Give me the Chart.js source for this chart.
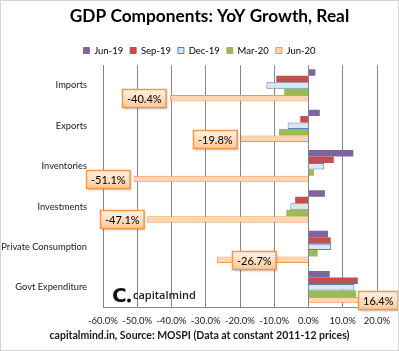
<!DOCTYPE html>
<html>
<head>
<meta charset="utf-8">
<script src="https://cdn.jsdelivr.net/npm/chart.js@4"></script>
<style>
  html, body { margin: 0; padding: 0; background: #fff; }
  #wrap { width: 399px; height: 351px; position: relative; }
</style>
</head>
<body>
<div id="wrap"><canvas id="myChart"></canvas></div>
<script>
var categories = ['Imports', 'Exports', 'Inventories', 'Investments', 'Private Consumption', 'Govt Expenditure'];
var seriesNames = ['Jun-19', 'Sep-19', 'Dec-19', 'Mar-20', 'Jun-20'];
var jun19 = [2.0, 3.3, 13.1, 4.8, 5.7, 6.2];
var sep19 = [-9.4, -2.4, 7.4, -3.9, 6.5, 14.4];
var dec19 = [-12.3, -6.1, 4.6, -5.3, 6.6, 13.4];
var mar20 = [-7.1, -8.6, 1.6, -6.5, 2.7, 13.9];
var jun20 = [-40.4, -19.8, -51.1, -47.1, -26.7, 16.4];
var xMin = -60, xMax = 20, xStep = 10;

var FONT = 'Lato';

// labels in boxes on the Jun-20 bars
var boxLabels = {
  id: 'boxLabels',
  afterDatasetsDraw: function(chart, args, opts) {
    var meta = chart.getDatasetMeta(4);
    var ctx = chart.ctx;
    ctx.save();
    ctx.font = '11px ' + FONT;
    meta.data.forEach(function(bar, i) {
      var v = jun20[i];
      var text = v.toFixed(1) + '%';
      var w = ctx.measureText(text).width + 9, h = 18;
      var x = v < 0 ? bar.x - 4 - w : bar.x - 2;
      x += opts.shift[i];
      var y = Math.round(bar.y - h / 2) + 0.5;
      x = Math.round(x) + 0.5;
      ctx.shadowColor = 'rgba(0,0,0,0.3)';
      ctx.shadowOffsetX = 1; ctx.shadowOffsetY = 1; ctx.shadowBlur = 2;
      var g = ctx.createLinearGradient(0, y, 0, y + h);
      g.addColorStop(0, '#fff3e8');
      g.addColorStop(1, '#fcc999');
      ctx.fillStyle = g;
      ctx.fillRect(x, y, w, h);
      ctx.shadowColor = 'transparent';
      ctx.strokeStyle = '#f79646';
      ctx.lineWidth = 1.5;
      ctx.strokeRect(x, y, w, h);
      ctx.fillStyle = '#000';
      ctx.textAlign = 'center';
      ctx.textBaseline = 'middle';
      ctx.fillText(text, x + w / 2, y + h / 2 + 1);
    });
    ctx.restore();
  }
};

// capitalmind mark, title nudge and outer frame
var extras = {
  id: 'extras',
  afterLayout: function(chart) {
    if (chart.titleBlock) {
      chart.titleBlock.left += 10;
      chart.titleBlock.right += 10;
    }
  },
  beforeDatasetsDraw: function(chart) {
    var ctx = chart.ctx;
    var a = chart.chartArea;
    ctx.save();
    ctx.fillStyle = '#111';
    ctx.font = 'bold 20px "DejaVu Sans"';
    ctx.textBaseline = 'alphabetic';
    ctx.fillText('C', a.left + 9, a.bottom - 5);
    ctx.beginPath();
    ctx.arc(a.left + 26, a.bottom - 7, 2, 0, Math.PI * 2);
    ctx.fill();
    ctx.font = '600 11px "Open Sans"';
    ctx.fillStyle = '#222';
    ctx.fillText('capitalmind', a.left + 30, a.bottom - 8);
    ctx.restore();
  },
  afterDraw: function(chart) {
    var ctx = chart.ctx;
    ctx.save();
    ctx.strokeStyle = '#d4d4d4';
    ctx.lineWidth = 1;
    ctx.strokeRect(0.5, 0.5, chart.width - 1, chart.height - 1);
    ctx.restore();
  }
};

var ctx = document.getElementById('myChart').getContext('2d');
var myChart = new Chart(ctx, {
  type: 'bar',
  data: {
    labels: categories,
    datasets: [
      { label: seriesNames[0], data: jun19, backgroundColor: '#8064a2', borderWidth: 0 },
      { label: seriesNames[1], data: sep19, backgroundColor: '#c0504d', borderWidth: 0 },
      { label: seriesNames[2], data: dec19, backgroundColor: '#dce6f2', borderColor: '#4f81bd', borderWidth: 1 },
      { label: seriesNames[3], data: mar20, backgroundColor: '#9bbb59', borderWidth: 0 },
      { label: seriesNames[4], data: jun20, backgroundColor: '#fcd5b5', borderColor: '#f79646', borderWidth: 1 }
    ]
  },
  options: {
    indexAxis: 'y',
    responsive: true,
    maintainAspectRatio: false,
    animation: false,
    datasets: { bar: { categoryPercentage: 0.8, barPercentage: 1.0 } },
    layout: { padding: { left: 0, right: 0, top: 0, bottom: 9 } },
    plugins: {
      tooltip: { enabled: false },
      title: {
        display: true,
        text: 'GDP Components: YoY Growth, Real',
        color: '#000',
        font: { family: FONT, size: 17.3, weight: 'bold' },
        padding: { top: 6, bottom: 12 }
      },
      legend: {
        position: 'top',
        labels: {
          color: '#1a1a1a',
          font: { family: FONT, size: 9.5 },
          boxWidth: 6, boxHeight: 6,
          padding: 7,
          generateLabels: function(chart) {
            return chart.data.datasets.map(function(ds, i) {
              return {
                text: ds.label,
                fillStyle: ds.backgroundColor,
                strokeStyle: ds.borderWidth ? ds.borderColor : ds.backgroundColor,
                lineWidth: 1,
                datasetIndex: i
              };
            });
          }
        }
      },
      subtitle: {
        display: true,
        position: 'bottom',
        text: 'capitalmind.in, Source: MOSPI (Data at constant 2011-12 prices)',
        color: '#1a1a1a',
        font: { family: FONT, size: 10.5, weight: 'bold' },
        padding: { top: 2, bottom: 0 }
      },
      boxLabels: { shift: [0, 0, 0, 0, 63, -5] }
    },
    scales: {
      x: {
        min: xMin, max: xMax,
        ticks: {
          stepSize: xStep,
          color: '#1a1a1a',
          font: { family: FONT, size: 9.5 },
          padding: 8,
          maxRotation: 0, minRotation: 0,
          autoSkip: false,
          callback: function(v) { return v.toFixed(1) + '%'; }
        },
        grid: { color: '#868686', drawTicks: false },
        border: { display: true, color: '#868686' },
        afterFit: function(scale) { scale.height = 20; }
      },
      y: {
        ticks: { color: '#1a1a1a', font: { family: FONT, size: 9.3 }, padding: 8 },
        grid: { display: false },
        border: { display: true, color: '#868686' },
        afterFit: function(scale) { scale.width = 103; }
      },
      // empty right-hand axis that only keeps the plot's right margin
      yRight: {
        type: 'category',
        position: 'right',
        ticks: { display: false },
        grid: { display: false },
        border: { display: false },
        afterFit: function(scale) { scale.width = 22; }
      }
    }
  },
  plugins: [boxLabels, extras]
});
</script>
</body>
</html>
